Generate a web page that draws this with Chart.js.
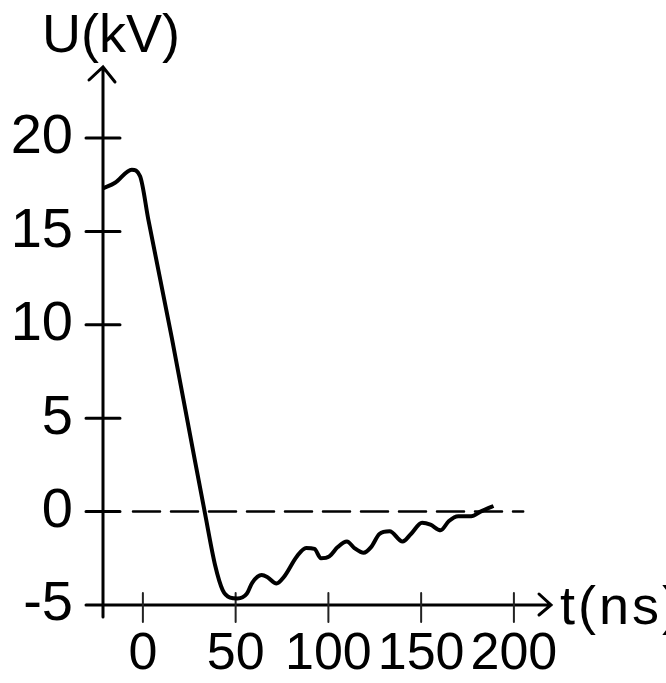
<!DOCTYPE html>
<html>
<head>
<meta charset="utf-8">
<script src="https://cdn.jsdelivr.net/npm/chart.js@4"></script>
<style>
  body { margin: 0; background: #fff; }
  #wrap { width: 666px; height: 683px; }
</style>
</head>
<body>
<div id="wrap"><canvas id="chart" width="666" height="683"></canvas></div>
<script>
// DATA
const timeNs = [-21.5, -15, -6, -1.5, 3, 15.6, 28, 33.3, 39, 43, 47, 51, 56, 59, 64, 67, 72, 76, 83, 88, 92.5, 96, 100.5, 105, 110, 114, 119, 123, 127.5, 133, 140, 144.5, 150.5, 155, 160.5, 165, 170, 177, 182, 186.5, 189];
const voltageKv = [17.3, 17.6, 18.3, 17.95, 15.6, 9.3, 2.75, 0, -2.9, -4.2, -4.6, -4.65, -4.4, -3.8, -3.4, -3.5, -3.85, -3.5, -2.4, -1.95, -2.0, -2.5, -2.4, -1.9, -1.6, -1.95, -2.2, -1.9, -1.2, -1.05, -1.6, -1.2, -0.6, -0.7, -1.0, -0.5, -0.25, -0.25, 0, 0.2, 0.3];
const xTicks = [0, 50, 100, 150, 200];
const yTicks = [-5, 0, 5, 10, 15, 20];
const xRange = [-21.5, 220];
const yRange = [-5, 23.8];
const zeroLineEnd = 205;
const xLabel = "t(ns)";
const yLabel = "U(kV)";

const FONT = '"Liberation Sans", sans-serif';

// AXES, ARROWS, TICK CROSSES, DASHED ZERO LINE
const handAxes = {
  id: "handAxes",
  beforeDatasetsDraw(chart) {
    const ctx = chart.ctx;
    const a = chart.chartArea;
    const xs = chart.scales.x, ys = chart.scales.y;
    ctx.save();
    ctx.strokeStyle = "#000";
    ctx.lineCap = "round";

    const y0 = ys.getPixelForValue(0);
    ctx.lineWidth = 2.5;
    ctx.setLineDash([27, 11]);
    ctx.beginPath();
    ctx.moveTo(a.left + 30, y0);
    ctx.lineTo(xs.getPixelForValue(zeroLineEnd), y0);
    ctx.stroke();
    ctx.setLineDash([]);

    ctx.lineWidth = 3;
    ctx.beginPath();
    ctx.moveTo(a.left - 8, a.bottom); ctx.lineTo(a.right, a.bottom);
    ctx.moveTo(a.left, a.bottom + 12); ctx.lineTo(a.left, a.top);
    // arrow heads
    ctx.moveTo(a.right - 12, a.bottom - 11); ctx.lineTo(a.right, a.bottom); ctx.lineTo(a.right - 12, a.bottom + 10);
    ctx.moveTo(a.left - 14, a.top + 13); ctx.lineTo(a.left, a.top); ctx.lineTo(a.left + 12, a.top + 15);
    yTicks.forEach(v => {
      const p = ys.getPixelForValue(v);
      ctx.moveTo(a.left - 17, p); ctx.lineTo(a.left + 17, p);
    });
    ctx.stroke();

    ctx.lineWidth = 2;
    ctx.strokeStyle = "#222";
    ctx.beginPath();
    xTicks.forEach(v => {
      const p = xs.getPixelForValue(v);
      ctx.moveTo(p, a.bottom - 12); ctx.lineTo(p, a.bottom + 17);
    });
    ctx.stroke();

    ctx.fillStyle = "#000";
    ctx.font = "54px " + FONT;
    ctx.textBaseline = "alphabetic";
    ctx.fillText(yLabel, 42, 52);
    ctx.font = "54px " + FONT;
    ctx.letterSpacing = "3px";
    ctx.fillText(xLabel, 560, 624);
    ctx.restore();
  }
};

new Chart(document.getElementById("chart"), {
  type: "line",
  data: {
    datasets: [{
      data: timeNs.map((t, i) => ({ x: t, y: voltageKv[i] })),
      borderColor: "#000",
      borderWidth: 4,
      pointRadius: 0,
      fill: false,
      cubicInterpolationMode: "monotone"
    }]
  },
  options: {
    responsive: false,
    animation: false,
    layout: { padding: { top: 67, right: 115, left: 0, bottom: 0 } },
    plugins: { legend: { display: false }, tooltip: { enabled: false } },
    scales: {
      x: {
        type: "linear",
        min: xRange[0],
        max: xRange[1],
        grid: { display: false, drawTicks: false },
        border: { display: false },
        afterBuildTicks: s => { s.ticks = xTicks.map(v => ({ value: v })); },
        afterFit: s => { s.height = 78; },
        ticks: {
          color: "#000",
          padding: 18,
          maxRotation: 0,
          autoSkip: false,
          font: { family: FONT, size: 52 }
        }
      },
      y: {
        type: "linear",
        min: yRange[0],
        max: yRange[1],
        grid: { display: false, drawTicks: false },
        border: { display: false },
        afterBuildTicks: s => { s.ticks = yTicks.map(v => ({ value: v })); },
        afterFit: s => { s.width = 103; },
        ticks: {
          color: "#000",
          padding: 30,
          autoSkip: false,
          font: { family: FONT, size: 56 }
        }
      }
    }
  },
  plugins: [handAxes]
});
</script>
</body>
</html>
